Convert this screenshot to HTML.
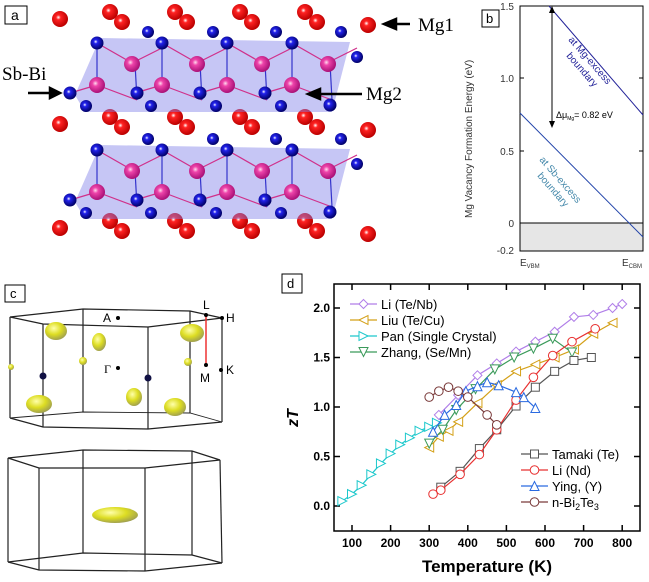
<!DOCTYPE html>
<html><head><meta charset="utf-8"><style>
body{margin:0;background:#fff;width:649px;height:582px;overflow:hidden}
svg{display:block;font-family:"Liberation Sans",sans-serif}
</style></head><body>
<svg id="fig" width="649" height="582" viewBox="0 0 649 582">
<defs>
<radialGradient id="gr" cx="0.4" cy="0.4" r="0.6"><stop offset="0" stop-color="#fff"/><stop offset="0.25" stop-color="#f22"/><stop offset="1" stop-color="#b00"/></radialGradient>
<radialGradient id="gb" cx="0.4" cy="0.4" r="0.6"><stop offset="0" stop-color="#fff"/><stop offset="0.25" stop-color="#22e"/><stop offset="1" stop-color="#006"/></radialGradient>
<radialGradient id="gm" cx="0.4" cy="0.4" r="0.6"><stop offset="0" stop-color="#fde"/><stop offset="0.3" stop-color="#e4a"/><stop offset="1" stop-color="#a17"/></radialGradient>
<radialGradient id="gy" cx="0.4" cy="0.35" r="0.7"><stop offset="0" stop-color="#ffa"/><stop offset="0.5" stop-color="#dd2"/><stop offset="1" stop-color="#995"/></radialGradient>
</defs>
<!-- panel a -->
<g id="panel-a"></g>
<rect x="5" y="6" width="22" height="18" fill="#fff" stroke="#000"/>
<text x="11" y="20" font-size="14">a</text>
<text x="2" y="80" font-size="19" font-family="Liberation Serif">Sb-Bi</text>
<text x="418" y="31" font-size="19" font-family="Liberation Serif">Mg1</text>
<text x="366" y="100" font-size="19" font-family="Liberation Serif">Mg2</text>
<g stroke="#000" stroke-width="2.5" fill="#000">
<line x1="28" y1="93" x2="52" y2="93"/><polygon points="60,93 50,88 50,98"/>
<line x1="362" y1="94" x2="318" y2="94"/><polygon points="308,94 320,89 320,99"/>
<line x1="410" y1="24" x2="394" y2="24"/><polygon points="384,24 396,19 396,29"/>
</g>
<!-- panel b -->
<g>
<rect x="520" y="223" width="123" height="28" fill="#e6e6e6"/>
<line x1="520" y1="223" x2="643" y2="223" stroke="#000"/>
<rect x="520" y="6" width="123" height="245" fill="none" stroke="#000"/>
<line x1="549" y1="6" x2="643" y2="115" stroke="#229" stroke-width="1"/>
<line x1="520" y1="113" x2="643" y2="237" stroke="#24a" stroke-width="1"/>
<line x1="552" y1="10" x2="552" y2="124" stroke="#000"/>
<polygon points="552,6 549,13 555,13"/><polygon points="552,128 549,121 555,121"/>
<g font-size="10" fill="#333">
<text x="514" y="10" text-anchor="end">1.5</text><text x="514" y="82" text-anchor="end">1.0</text>
<text x="514" y="155" text-anchor="end">0.5</text><text x="514" y="227" text-anchor="end">0</text>
<text x="514" y="254" text-anchor="end">-0.2</text>
<text x="520" y="266">E<tspan font-size="6" dy="2">VBM</tspan></text>
<text x="622" y="266">E<tspan font-size="6" dy="2">CBM</tspan></text>
</g>
<g stroke="#000"><line x1="520" y1="78" x2="524" y2="78"/><line x1="520" y1="151" x2="524" y2="151"/><line x1="639" y1="78" x2="643" y2="78"/><line x1="639" y1="151" x2="643" y2="151"/></g>
<text transform="translate(472,218) rotate(-90)" font-size="10" fill="#333">Mg Vacancy Formation Energy (eV)</text>
<text x="556" y="118" font-size="9">Δμ<tspan font-size="5" dy="2">Mg</tspan><tspan dy="-2">= 0.82 eV</tspan></text>
<text transform="translate(568,40) rotate(49)" font-size="10" fill="#229">at Mg-excess</text>
<text transform="translate(566,56) rotate(49)" font-size="10" fill="#229">boundary</text>
<text transform="translate(539,160) rotate(49)" font-size="10" fill="#48a">at Sb-excess</text>
<text transform="translate(537,176) rotate(49)" font-size="10" fill="#48a">boundary</text>
</g>
<rect x="482" y="10" width="17" height="17" fill="#fff" stroke="#000"/>
<text x="486" y="23" font-size="13">b</text>
<!-- panel c -->
<g fill="none" stroke="#222" stroke-width="1.2">
<polygon points="10,317 83,309 190,311 222,318 148,327 43,324"/>
<polyline points="10,418 43,427 148,429 222,422"/>
<polyline points="10,418 83,412 190,413 222,422" stroke-width="0.9"/>
<line x1="10" y1="317" x2="10" y2="418"/><line x1="43" y1="324" x2="43" y2="427"/><line x1="148" y1="327" x2="148" y2="429"/><line x1="222" y1="318" x2="222" y2="422"/><line x1="83" y1="309" x2="83" y2="412"/><line x1="190" y1="311" x2="190" y2="413"/>
<polygon points="8,458 83,450 192,451 220,460 145,468 39,468"/>
<polyline points="8,562 39,570 145,571 222,563"/>
<polyline points="8,562 83,553 192,555 222,563"/>
<line x1="8" y1="458" x2="8" y2="562"/><line x1="39" y1="468" x2="39" y2="570"/><line x1="145" y1="468" x2="145" y2="571"/><line x1="220" y1="460" x2="222" y2="563"/><line x1="83" y1="450" x2="83" y2="553"/><line x1="192" y1="451" x2="192" y2="555"/>
</g>
<g fill="url(#gy)">
<ellipse cx="56" cy="331" rx="11" ry="9"/><ellipse cx="99" cy="342" rx="7" ry="9"/><ellipse cx="192" cy="333" rx="12" ry="9"/>
<ellipse cx="39" cy="404" rx="13" ry="9"/><ellipse cx="134" cy="397" rx="8" ry="9"/><ellipse cx="175" cy="407" rx="11" ry="9"/>
<circle cx="83" cy="361" r="4"/><circle cx="188" cy="362" r="4"/><circle cx="11" cy="367" r="3"/>
<ellipse cx="115" cy="515" rx="23" ry="8"/>
</g>
<g>
<circle cx="43" cy="376" r="3.5" fill="#114"/><circle cx="148" cy="378" r="3.5" fill="#114"/>
<line x1="206" y1="315" x2="206" y2="365" stroke="#e33" stroke-width="1.5"/>
<circle cx="118" cy="318" r="2"/><circle cx="118" cy="368" r="2"/><circle cx="206" cy="315" r="2"/><circle cx="222" cy="318" r="2"/><circle cx="206" cy="365" r="2"/><circle cx="221" cy="370" r="2"/>
<g font-size="12"><text x="103" y="322">A</text><text x="104" y="373" font-family="Liberation Serif">Γ</text><text x="203" y="309">L</text><text x="226" y="322">H</text><text x="200" y="382">M</text><text x="226" y="374">K</text></g>
</g>
<rect x="5" y="285" width="20" height="17" fill="#fff" stroke="#000"/>
<text x="10" y="298" font-size="13">c</text>
<!-- panel d -->
<rect x="282" y="274" width="20" height="19" fill="#fff" stroke="#000"/>
<text x="287" y="288" font-size="13">d</text>
<g id="chart"></g>
</svg>
<script>
const tempTicks=[100,200,300,400,500,600,700,800];
const ztTicks=["0.0","0.5","1.0","1.5","2.0"];
const liTeNbT=[325,375,425,475,525,575,625,675,725,775,800];
const liTeNbZ=[0.92,1.12,1.32,1.44,1.56,1.66,1.76,1.91,1.93,2.00,2.04];
const liuT=[300,325,350,375,425,475,525,575,625,675,725,775];
const liuZ=[0.59,0.70,0.76,0.85,1.04,1.22,1.36,1.43,1.50,1.58,1.74,1.85];
const panT=[75,100,125,150,175,200,225,250,275,300,320];
const panZ=[0.05,0.12,0.21,0.32,0.43,0.53,0.62,0.69,0.76,0.80,0.84];
const zhangT=[300,335,370,420,470,520,570,620,670];
const zhangZ=[0.63,0.77,0.97,1.18,1.38,1.50,1.59,1.69,1.55];
const tamakiT=[330,380,430,475,525,575,625,675,720];
const tamakiZ=[0.19,0.35,0.58,0.77,1.01,1.20,1.36,1.47,1.50];
const liNdT=[310,330,380,430,475,525,570,620,670,730];
const liNdZ=[0.12,0.16,0.32,0.52,0.77,1.07,1.30,1.52,1.66,1.79];
const yingT=[310,340,370,395,425,450,480,525,545,575];
const yingZ=[0.75,0.92,1.02,1.16,1.21,1.25,1.22,1.15,1.10,0.99];
const bi2te3T=[300,325,350,375,400,450,475];
const bi2te3Z=[1.10,1.16,1.20,1.16,1.10,0.92,0.82];
const NS="http://www.w3.org/2000/svg";
function mk(tag,attrs,parent){const e=document.createElementNS(NS,tag);for(const k in attrs)e.setAttribute(k,attrs[k]);parent.appendChild(e);return e;}
const xS=t=>313.4+t*0.386, yS=z=>506-z*99;
const ch=document.getElementById('chart');
const fr=mk('rect',{x:334,y:284,width:306,height:247,fill:'none',stroke:'#000','stroke-width':1.5},ch);


tempTicks.forEach(t=>{const x=xS(t);mk('line',{x1:x,y1:531,x2:x,y2:525,stroke:'#000','stroke-width':1.5},ch);mk('line',{x1:x,y1:284,x2:x,y2:290,stroke:'#000','stroke-width':1.5},ch);
const tx=mk('text',{x:x,y:547,'font-size':12,'font-weight':'bold','text-anchor':'middle'},ch);tx.textContent=t;

});
ztTicks.forEach(s=>{const y=yS(parseFloat(s));mk('line',{x1:334,y1:y,x2:340,y2:y,stroke:'#000','stroke-width':1.5},ch);mk('line',{x1:640,y1:y,x2:634,y2:y,stroke:'#000','stroke-width':1.5},ch);
const tx=mk('text',{x:330,y:y+4,'font-size':12,'font-weight':'bold','text-anchor':'end'},ch);tx.textContent=s;

});
const xl=mk('text',{x:487,y:572,'font-size':17,'font-weight':'bold','text-anchor':'middle'},ch);xl.textContent='Temperature (K)';


const yl=mk('text',{transform:'translate(298,418) rotate(-90)','font-size':16,'font-weight':'bold','font-style':'italic','text-anchor':'middle'},ch);yl.textContent='zT';


function marker(g,type,x,y,c){const r=4.5;let p;
if(type==='diamond')p=`${x},${y-r} ${x+r},${y} ${x},${y+r} ${x-r},${y}`;
else if(type==='left')p=`${x-r},${y} ${x+r},${y-r} ${x+r},${y+r}`;
else if(type==='right')p=`${x+r},${y} ${x-r},${y-r} ${x-r},${y+r}`;
else if(type==='down')p=`${x-r},${y-r} ${x+r},${y-r} ${x},${y+r}`;
else if(type==='up')p=`${x-r},${y+r} ${x+r},${y+r} ${x},${y-r}`;
let m;
if(type==='square')m=mk('rect',{x:x-4,y:y-4,width:8,height:8,fill:'#fff',stroke:c},g);
else if(type==='circle')m=mk('circle',{cx:x,cy:y,r:4.3,fill:'#fff',stroke:c},g);
else m=mk('polygon',{points:p,fill:'#fff',stroke:c},g);

}
const series=[
['li-te-nb',liTeNbT,liTeNbZ,'#b07ee8','diamond'],['liu-te-cu',liuT,liuZ,'#d4a017','left'],
['pan-single-crystal',panT,panZ,'#1cc8cc','right'],['zhang-se-mn',zhangT,zhangZ,'#3a9a5a','down'],
['tamaki-te',tamakiT,tamakiZ,'#555','square'],['li-nd',liNdT,liNdZ,'#e83030','circle'],
['ying-y',yingT,yingZ,'#2a6ae0','up'],['n-bi2te3',bi2te3T,bi2te3Z,'#7a3a3a','circle']];
series.forEach(([n,T,Z,c,t])=>{const g=mk('g',{},ch);


mk('polyline',{points:T.map((v,i)=>xS(v)+','+yS(Z[i])).join(' '),fill:'none',stroke:c,'stroke-width':1.2},g);
T.forEach((v,i)=>marker(g,t,xS(v),yS(Z[i]),c));});
const leg1=[['Li (Te/Nb)',0],['Liu (Te/Cu)',1],['Pan (Single Crystal)',2],['Zhang, (Se/Mn)',3]];
const leg2=[['Tamaki (Te)',4],['Li (Nd)',5],['Ying, (Y)',6],['n-Bi₂Te₃',7]];
function legend(items,x0,y0){items.forEach(([lab,si],i)=>{const g=mk('g',{},ch);


const y=y0+i*16,c=series[si][3];mk('line',{x1:x0,y1:y,x2:x0+27,y2:y,stroke:c,'stroke-width':1.2},g);marker(g,series[si][4],x0+13.5,y,c);
const tx=mk('text',{x:x0+31,y:y+5,'font-size':13},g);
if(lab==='n-Bi₂Te₃'){tx.innerHTML='n-Bi<tspan font-size="9" dy="3">2</tspan><tspan dy="-3">Te</tspan><tspan font-size="9" dy="3">3</tspan>';}else tx.textContent=lab;});}
legend(leg1,350,304);legend(leg2,521,454);
// panel a
const pa=document.getElementById('panel-a');
function ball(x,y,r,f){const c=mk('circle',{cx:x,cy:y,r:r,fill:f},pa);

}
const redY=[[17,26],[122,131],[226,237]];
redY.forEach(([a,b])=>{ball(60,a+2,8,'url(#gr)');ball(368,a+8,8,'url(#gr)');
[110,175,240,305].forEach(x=>{ball(x,a-5,8,'url(#gr)');ball(x+12,a+5,8,'url(#gr)');});});
[0,107].forEach(dy=>{
const poly=mk('polygon',{points:`75,${95+dy} 100,${38+dy} 350,${42+dy} 332,${112+dy} 85,${112+dy}`,fill:'#8080e8','fill-opacity':0.45,stroke:'none'},pa);


const ls=mk('g',{stroke:'#d0308a','stroke-width':1.2},pa);
[0,65,130,195].forEach(o=>{mk('line',{x1:97+o,y1:43+dy,x2:132+o,y2:63+dy},ls);mk('line',{x1:132+o,y1:63+dy,x2:162+o,y2:48+dy},ls);
mk('line',{x1:97+o,y1:85+dy,x2:137+o,y2:100+dy},ls);mk('line',{x1:70+o,y1:93+dy,x2:97+o,y2:85+dy},ls);
mk('line',{x1:97+o,y1:43+dy,x2:97+o,y2:85+dy,stroke:'#33c'},ls);mk('line',{x1:135+o,y1:63+dy,x2:137+o,y2:100+dy,stroke:'#33c'},ls);});
[148,213,276,341].forEach(x=>ball(x,32+dy,6,'url(#gb)'));
ball(357,57+dy,6,'url(#gb)');
[97,162,227,292].forEach(x=>ball(x,43+dy,6.5,'url(#gb)'));
[132,197,262,328].forEach(x=>ball(x,64+dy,8,'url(#gm)'));
[97,162,227,292].forEach(x=>ball(x,85+dy,8,'url(#gm)'));
[70,137,200,265,330].forEach(x=>ball(x,93+dy+(x>300?12:0),6.5,'url(#gb)'));
[86,151,216,281].forEach(x=>ball(x,106+dy,6,'url(#gb)'));
});
</script>
</body></html>
